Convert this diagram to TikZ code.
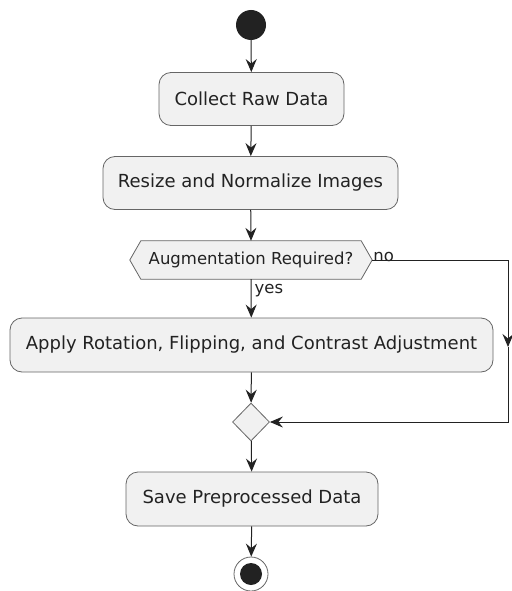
\documentclass[tikz,border=0pt]{standalone}
\usepackage{fontspec}
\setmainfont{DejaVu Sans}
\usetikzlibrary{arrows.meta,shapes.geometric}
\definecolor{boxfill}{HTML}{F1F1F1}
\definecolor{boxline}{HTML}{666666}
\definecolor{ink}{HTML}{222222}
\tikzset{
  actbox/.style={draw=boxline, line width=0.8pt, fill=boxfill, rounded corners=12pt, minimum height=53pt, inner sep=0pt, font=\fontsize{18}{20}\selectfont, text=ink},
  arr/.style={draw=ink, line width=1pt, -{Stealth[length=13pt,width=11pt,inset=4.5pt]}},
  lbl/.style={font=\fontsize{16.5}{18}\selectfont, text=ink, inner sep=0pt}
}
\begin{document}
\begin{tikzpicture}[x=1pt,y=-1pt]
\fill[white] (0,0) rectangle (511,591);
\useasboundingbox (0,0) rectangle (511,591);
\node[circle, fill=ink, minimum size=30pt, inner sep=0pt] (start) at (251,25) {};
\node[actbox, minimum width=185pt] (collect) at (251.5,99) {Collect Raw Data};
\node[actbox, minimum width=295pt] (resize) at (250.5,183) {Resize and Normalize Images};
\node[minimum width=242pt, minimum height=38pt, inner sep=0pt] (dec) at (251,260) {};
\draw[draw=boxline, line width=0.8pt, fill=boxfill]
  (dec.west) -- ([xshift=11pt]dec.north west) -- ([xshift=-11pt]dec.north east) -- (dec.east)
  -- ([xshift=-11pt]dec.south east) -- ([xshift=11pt]dec.south west) -- cycle;
\node[font=\fontsize{16.5}{18}\selectfont, text=ink, inner sep=0pt] (dectext) at (dec.center) {Augmentation Required?};
\node[actbox, minimum width=483pt, minimum height=54pt] (apply) at (251.5,345) {Apply Rotation, Flipping, and Contrast Adjustment};
\node[diamond, draw=boxline, line width=0.8pt, fill=boxfill, minimum width=37pt, minimum height=38pt, inner sep=0pt] (merge) at (251,422) {};
\node[actbox, minimum width=252pt, minimum height=54pt] (save) at (252,499) {Save Preprocessed Data};
\node[circle, draw=boxline, line width=0.8pt, fill=white, minimum size=34pt, inner sep=0pt] (stop) at (251,574) {};
\node[circle, fill=ink, minimum size=22pt, inner sep=0pt] (stopin) at (stop.center) {};
\coordinate (nr) at (508,260);
\coordinate (nm) at (508,347);
\draw[arr] (start) -- (collect);
\draw[arr] (collect) -- (resize);
\draw[arr] (resize) -- (dec.north);
\draw[arr] (dec.south) -- (apply) node[lbl, pos=0.3, anchor=west, xshift=3pt] {yes};
\draw[arr] (dec.east) -- (nr) -- (nm);
\draw[arr] (nm) |- (merge.east);
\node[lbl, anchor=south west] at ([xshift=1pt,yshift=-2pt]dec.east) {no};
\draw[arr] (apply) -- (merge);
\draw[arr] (merge) -- (save);
\draw[arr] (save) -- (stop);
\end{tikzpicture}
\end{document}
